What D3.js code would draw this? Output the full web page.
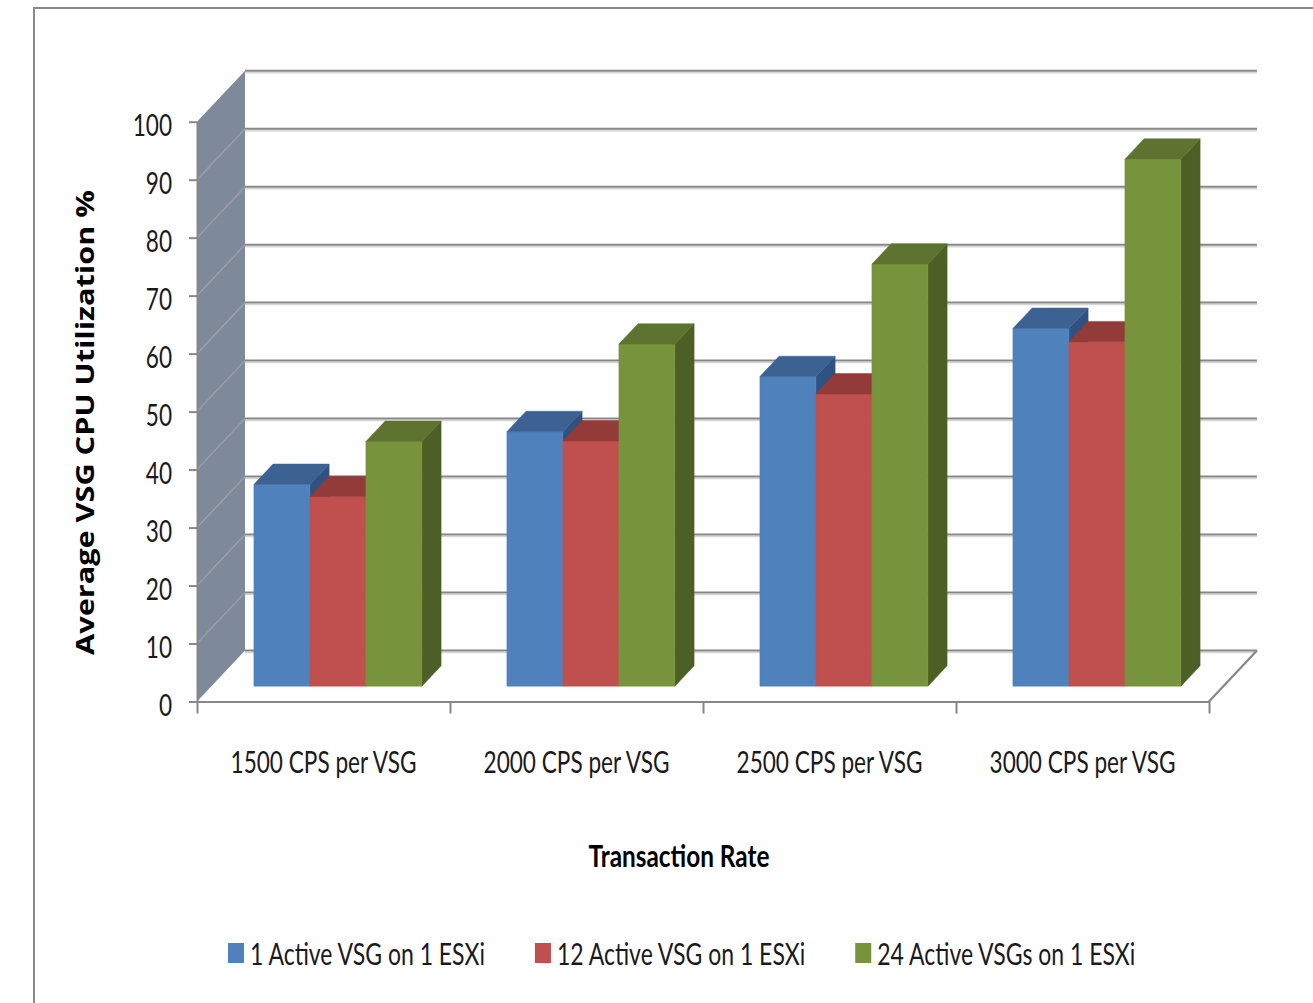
<!DOCTYPE html>
<html>
<head>
<meta charset="utf-8">
<script src="https://cdn.jsdelivr.net/npm/d3@7"></script>
<style>
  body { margin: 0; background: #fff; }
  svg { display: block; }
</style>
</head>
<body>
<svg id="chart" width="1313" height="1003"></svg>
<script>
// ---- data ----
const categories = ["1500 CPS per VSG", "2000 CPS per VSG", "2500 CPS per VSG", "3000 CPS per VSG"];
const seriesNames = ["1 Active VSG on 1 ESXi", "12 Active VSG on 1 ESXi", "24 Active VSGs on 1 ESXi"];
const oneVsg = [34.8, 43.9, 53.4, 61.7];
const twelveVsg = [32.7, 42.3, 50.4, 59.4];
const twentyFourVsg = [42.2, 59.0, 72.8, 90.9];
const yTicks = [0, 10, 20, 30, 40, 50, 60, 70, 80, 90, 100];
const xTitle = "Transaction Rate";
const yTitle = "Average VSG CPU Utilization %";

const seriesValues = [oneVsg, twelveVsg, twentyFourVsg];

// face shades per series: front, top, right side
const palette = [
  { front: "#4f81bd", top: "#3b6292", side: "#2f5281" },
  { front: "#c0504d", top: "#933b39", side: "#7d2e2c" },
  { front: "#77933c", top: "#5e732f", side: "#4c5f25" }
];

// ---- layout ----
const FONT = "Lato, 'Open Sans', sans-serif";
const TITLE_FONT = "'Open Sans', 'DejaVu Sans', sans-serif";
const GRID = "#878787";
const TEXT = "#1a1a1a";

const plotLeft = 197;      // front-left corner of the floor
const plotWidth = 1012;    // width of the floor front edge
const depthDX = 48;        // oblique shift of the back plane
const depthDY = -51;
const barDepth = [0.3, 0.7];

const svg = d3.select("#chart");

const y = d3.scaleLinear().domain([0, 100]).range([701.5, 121.7]);
const x0 = d3.scaleBand().domain(categories).range([0, plotWidth])
  .paddingInner(0.336).paddingOuter(0.168);
const x1 = d3.scaleBand().domain(seriesNames).range([0, x0.bandwidth()]);
const xEdge = d3.scaleLinear().domain([0, categories.length]).range([0, plotWidth]);

// oblique projection: horizontal offset, value, depth (0 = front, 1 = back)
const P = (x, v, d) => [plotLeft + x + depthDX * d, y(v) + depthDY * d];
const poly = pts => "M" + pts.map(p => p.join(",")).join("L") + "Z";
const seg = (a, b) => "M" + a.join(",") + "L" + b.join(",");

// text condensing factors, measured once
function measure(str, size, weight, family) {
  const t = svg.append("text").attr("font-family", family).attr("font-size", size)
    .attr("font-weight", weight).text(str);
  const w = t.node().getComputedTextLength();
  t.remove();
  return w;
}
const labelSize = 30;
const squeeze = 186 / measure(categories[0], labelSize, 400, FONT);
const legendSqueeze = 235 / measure(seriesNames[0], labelSize, 400, FONT);
const titleSqueeze = 181 / measure(xTitle, 30, 700, FONT);
const ySqueeze = 465 / measure(yTitle, 25, 700, TITLE_FONT);

// ---- chart frame ----
svg.append("path").attr("d", "M34,1003V8H1313")
  .attr("fill", "none").attr("stroke", "#8a8a8a").attr("stroke-width", 2);

// ---- walls and floor ----
const walls = svg.append("g");
walls.append("path")
  .attr("d", poly([P(0, 0, 0), P(0, 0, 1), P(0, 100, 1), P(0, 100, 0)]))
  .attr("fill", "#7e8999");

walls.selectAll(".side-grid").data(yTicks.filter(v => v > 0 && v < 100)).join("path")
  .attr("class", "side-grid")
  .attr("d", v => seg(P(0, v, 0), P(0, v, 1)))
  .attr("stroke", "#9a9fa8").attr("stroke-width", 1.5).attr("fill", "none");

walls.selectAll(".back-grid-shadow").data(yTicks).join("path")
  .attr("class", "back-grid-shadow")
  .attr("d", v => seg(P(0, v, 1).map((c, i) => i ? c + 2 : c), P(plotWidth, v, 1).map((c, i) => i ? c + 2 : c)))
  .attr("stroke", "#d6d6d6").attr("stroke-width", 1.5).attr("fill", "none");

walls.selectAll(".back-grid").data(yTicks).join("path")
  .attr("class", "back-grid")
  .attr("d", v => seg(P(0, v, 1), P(plotWidth, v, 1)))
  .attr("stroke", GRID).attr("stroke-width", 2).attr("fill", "none");

// floor right edge
walls.append("path").attr("d", seg(P(plotWidth, 0, 0), P(plotWidth, 0, 1)))
  .attr("stroke", GRID).attr("stroke-width", 2.2).attr("fill", "none");

// ---- bars ----
const bars = [];
categories.forEach((c, ci) => {
  seriesNames.forEach((s, si) => {
    bars.push({ cat: c, series: si, value: seriesValues[si][ci] });
  });
});

const barG = svg.append("g");
const barSel = barG.selectAll("g.bar").data(bars).join("g").attr("class", "bar");

function faces(b) {
  const xl = x0(b.cat) + x1(seriesNames[b.series]);
  const xr = xl + x1.bandwidth();
  const [d0, d1] = barDepth;
  const v = b.value;
  return {
    side: poly([P(xr, 0, d0), P(xr, 0, d1), P(xr, v, d1), P(xr, v, d0)]),
    front: poly([P(xl, 0, d0), P(xr, 0, d0), P(xr, v, d0), P(xl, v, d0)]),
    top: poly([P(xl, v, d0), P(xr, v, d0), P(xr, v, d1), P(xl, v, d1)])
  };
}
["side", "front", "top"].forEach(face => {
  barSel.append("path")
    .attr("d", b => faces(b)[face])
    .attr("fill", b => palette[b.series][face])
    .attr("stroke", b => palette[b.series][face])
    .attr("stroke-width", 0.5);
});

// ---- axes ----
const gx = svg.append("g").attr("transform", `translate(${plotLeft},${y(0)})`)
  .call(d3.axisBottom(xEdge).tickValues(d3.range(categories.length + 1))
    .tickFormat("").tickSize(12).tickSizeOuter(0));
gx.select(".domain").attr("stroke", GRID).attr("stroke-width", 2.2);
gx.selectAll(".tick line").attr("stroke", GRID).attr("stroke-width", 2);

const gxl = svg.append("g").attr("transform", `translate(${plotLeft},${y(0)})`)
  .call(d3.axisBottom(x0).tickSize(0));
gxl.select(".domain").remove();
gxl.selectAll(".tick text")
  .attr("y", 0).attr("dy", null)
  .attr("transform", `translate(0,71.5) scale(${squeeze},1)`)
  .attr("font-family", FONT).attr("font-size", labelSize).attr("fill", TEXT);

const gy = svg.append("g").attr("transform", `translate(${plotLeft},0)`)
  .call(d3.axisLeft(y).tickValues(yTicks).tickSize(8).tickSizeOuter(0));
gy.select(".domain").attr("stroke", GRID).attr("stroke-width", 2);
gy.selectAll(".tick line").attr("stroke", GRID).attr("stroke-width", 2);
gy.selectAll(".tick text")
  .attr("x", 0).attr("dy", null)
  .attr("transform", `translate(-25,14) scale(${squeeze},1)`)
  .attr("text-anchor", "end")
  .attr("font-family", FONT).attr("font-size", labelSize).attr("fill", TEXT);

// ---- axis titles ----
svg.append("text")
  .attr("transform", `translate(679,867) scale(${titleSqueeze},1)`)
  .attr("text-anchor", "middle")
  .attr("font-family", FONT).attr("font-size", 30).attr("font-weight", 700)
  .attr("fill", "#000").text(xTitle);

svg.append("text")
  .attr("transform", `translate(94,422.5) rotate(-90) scale(${ySqueeze},1)`)
  .attr("text-anchor", "middle")
  .attr("font-family", TITLE_FONT).attr("font-size", 25).attr("font-weight", 700)
  .attr("fill", "#000").text(yTitle);

// ---- legend ----
const legend = svg.append("g").attr("transform", "translate(228,0)");
let lx = 0;
seriesNames.forEach((name, i) => {
  legend.append("rect")
    .attr("x", lx).attr("y", 943).attr("width", 16).attr("height", 20)
    .attr("fill", palette[i].front);
  const t = legend.append("text")
    .attr("transform", `translate(${lx + 22},965) scale(${legendSqueeze},1)`)
    .attr("font-family", FONT).attr("font-size", labelSize).attr("fill", TEXT)
    .text(name);
  lx += 22 + t.node().getComputedTextLength() * legendSqueeze + 50;
});
</script>
</body>
</html>
